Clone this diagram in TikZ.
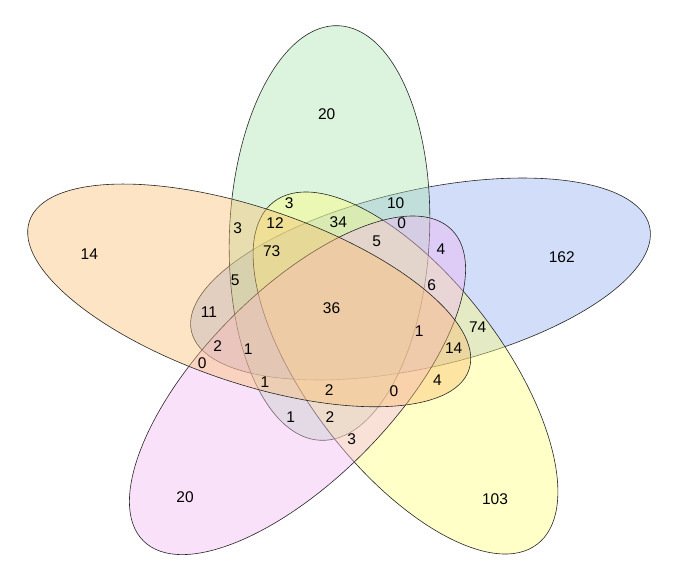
\documentclass[tikz,border=0pt]{standalone}
\usepackage{fontspec}
\setmainfont{Liberation Sans}
\definecolor{cO}{RGB}{250,188,108}
\definecolor{cG}{RGB}{168,228,172}
\definecolor{cB}{RGB}{143,172,242}
\definecolor{cY}{RGB}{255,255,118}
\definecolor{cP}{RGB}{242,180,242}
\begin{document}
\begin{tikzpicture}[x=1pt,y=-1pt,
  setshape/.style={draw=black!85, line width=0.6pt, fill opacity=0.4},
  num/.style={font=\fontsize{15.5}{18}\selectfont, text=black, inner sep=0pt}]
\useasboundingbox (0,0) rectangle (674,567);
\fill[white] (0,0) rectangle (674,567);
% sets, drawn in order: blue, green, yellow, pink, orange
\draw[setshape, fill=cB, rotate around={12.9:(420.5,279)}] (420.5,279) ellipse [x radius=235, y radius=88.5];
\draw[setshape, fill=cG, rotate around={-2.5:(329.5,233)}] (329.5,233) ellipse [x radius=100, y radius=207.5];
\draw[setshape, fill=cY, rotate around={-52.4:(405.5,373)}] (405.5,373) ellipse [x radius=216, y radius=96.5];
\draw[setshape, fill=cP, rotate around={45.3:(297.5,385.3)}] (297.5,385.3) ellipse [x radius=219, y radius=94.5];
\draw[setshape, fill=cO, rotate around={-18.7:(249.2,295.4)}] (249.2,295.4) ellipse [x radius=232, y radius=87.5];
% labels
\node[num] (g) at (326.7,114.3) {20};
\node[num] (o) at (89.3,254) {14};
\node[num] (b) at (561.7,256.7) {162};
\node[num] (p) at (185,497.3) {20};
\node[num] (y) at (495,499.3) {103};
\node[num] (a1) at (289.3,203.3) {3};
\node[num] (a2) at (395.7,202.7) {10};
\node[num] (a3) at (237.7,228.3) {3};
\node[num] (a4) at (275,223.3) {12};
\node[num] (a5) at (338.3,221.7) {34};
\node[num] (a6) at (401.7,223.3) {0};
\node[num] (a7) at (271.7,251) {73};
\node[num] (a8) at (376.7,241) {5};
\node[num] (a9) at (441,249.3) {4};
\node[num] (a10) at (235.3,280.7) {5};
\node[num] (a11) at (431.7,285.5) {6};
\node[num] (a12) at (331.5,308.5) {36};
\node[num] (a13) at (209,311.7) {11};
\node[num] (a14) at (419.3,330.8) {1};
\node[num] (a15) at (477.7,326.7) {74};
\node[num] (a16) at (217.7,346) {2};
\node[num] (a17) at (248.3,349.3) {1};
\node[num] (a18) at (453.7,347.7) {14};
\node[num] (a19) at (202.3,363.3) {0};
\node[num] (a20) at (437.5,380) {4};
\node[num] (a21) at (265,382.5) {1};
\node[num] (a22) at (329.3,390) {2};
\node[num] (a23) at (394,391) {0};
\node[num] (a24) at (290.7,416.7) {1};
\node[num] (a25) at (330,417.3) {2};
\node[num] (a26) at (351.7,439.3) {3};
\end{tikzpicture}
\end{document}
